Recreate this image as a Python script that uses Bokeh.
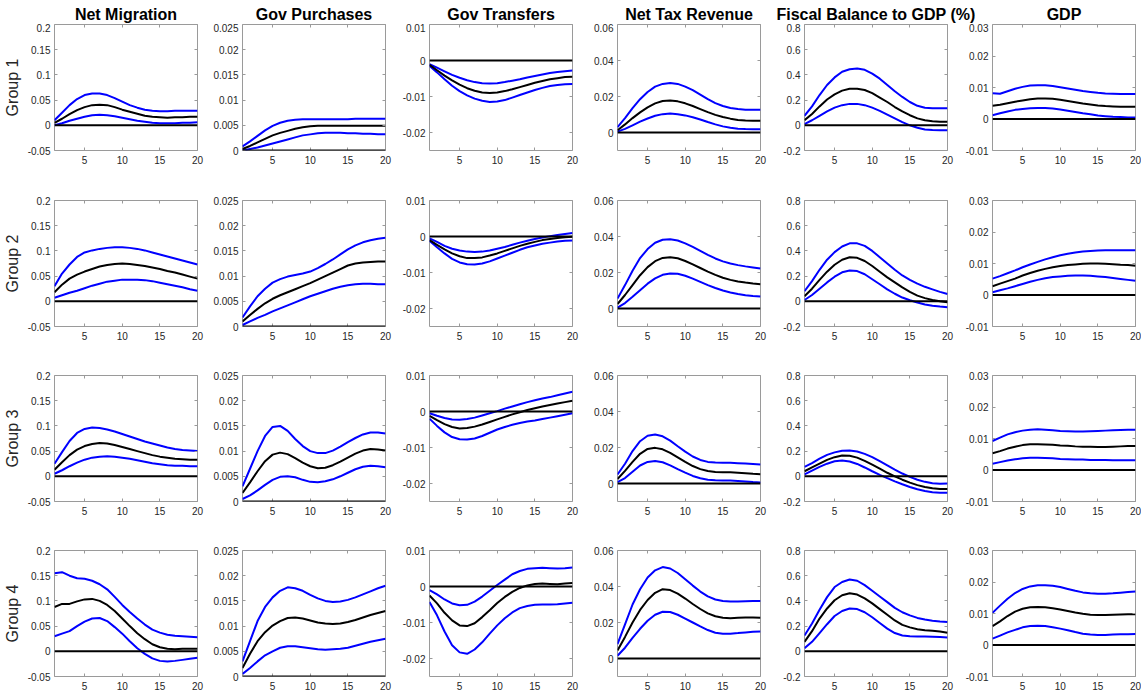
from bokeh.plotting import figure
from bokeh.layouts import gridplot, column
from bokeh.models import Range1d, FixedTicker, LinearAxis, Span, ColumnDataSource
from bokeh.embed import file_html
from bokeh.resources import INLINE
from bokeh.core.properties import value

# ---------------- data ----------------
T = list(range(1, 21))
TITLES = ["Net Migration", "Gov Purchases", "Gov Transfers", "Net Tax Revenue",
          "Fiscal Balance to GDP (%)", "GDP"]
GROUPS = ["Group 1", "Group 2", "Group 3", "Group 4"]
X_TICKS = [5, 10, 15, 20]
Y_LIMITS = [(-0.05, 0.2), (0, 0.025), (-0.025, 0.01), (-0.01, 0.06), (-0.2, 0.8), (-0.01, 0.03)]
Y_TICKS = [[-0.05, 0, 0.05, 0.1, 0.15, 0.2],
           [0, 0.005, 0.01, 0.015, 0.02, 0.025],
           [-0.02, -0.01, 0, 0.01],
           [0, 0.02, 0.04, 0.06],
           [-0.2, 0, 0.2, 0.4, 0.6, 0.8],
           [-0.01, 0, 0.01, 0.02, 0.03]]

# Net Migration
NM_HI = [
    [0.010, 0.025, 0.040, 0.052, 0.060, 0.063, 0.063, 0.060, 0.054, 0.047, 0.040, 0.035, 0.031, 0.029, 0.028, 0.028, 0.029, 0.029, 0.029, 0.029],
    [0.030, 0.055, 0.073, 0.088, 0.097, 0.101, 0.104, 0.106, 0.107, 0.107, 0.106, 0.104, 0.101, 0.097, 0.093, 0.089, 0.085, 0.081, 0.077, 0.073],
    [0.025, 0.048, 0.070, 0.086, 0.094, 0.097, 0.096, 0.093, 0.089, 0.084, 0.079, 0.074, 0.069, 0.065, 0.061, 0.057, 0.054, 0.052, 0.051, 0.050],
    [0.155, 0.157, 0.150, 0.145, 0.144, 0.140, 0.133, 0.123, 0.108, 0.092, 0.078, 0.065, 0.053, 0.043, 0.037, 0.033, 0.031, 0.030, 0.029, 0.028],
]
NM_MED = [
    [0.005, 0.013, 0.022, 0.030, 0.036, 0.040, 0.041, 0.040, 0.036, 0.031, 0.027, 0.023, 0.019, 0.017, 0.016, 0.015, 0.016, 0.016, 0.017, 0.017],
    [0.018, 0.033, 0.045, 0.053, 0.059, 0.064, 0.069, 0.072, 0.074, 0.075, 0.074, 0.072, 0.070, 0.067, 0.064, 0.060, 0.057, 0.053, 0.049, 0.045],
    [0.013, 0.028, 0.042, 0.053, 0.060, 0.064, 0.066, 0.065, 0.062, 0.058, 0.054, 0.050, 0.046, 0.042, 0.039, 0.037, 0.035, 0.034, 0.033, 0.033],
    [0.088, 0.094, 0.094, 0.099, 0.103, 0.104, 0.100, 0.092, 0.080, 0.065, 0.050, 0.036, 0.024, 0.014, 0.008, 0.005, 0.004, 0.005, 0.005, 0.005],
]
NM_LO = [
    [0.000, 0.004, 0.009, 0.013, 0.017, 0.020, 0.021, 0.020, 0.018, 0.015, 0.012, 0.009, 0.007, 0.005, 0.004, 0.004, 0.004, 0.005, 0.005, 0.006],
    [0.007, 0.012, 0.017, 0.021, 0.026, 0.031, 0.035, 0.039, 0.041, 0.043, 0.043, 0.043, 0.042, 0.040, 0.037, 0.034, 0.031, 0.028, 0.024, 0.021],
    [0.005, 0.012, 0.020, 0.027, 0.033, 0.037, 0.039, 0.040, 0.039, 0.037, 0.035, 0.032, 0.029, 0.026, 0.024, 0.022, 0.021, 0.021, 0.020, 0.020],
    [0.030, 0.035, 0.040, 0.050, 0.059, 0.065, 0.066, 0.060, 0.048, 0.035, 0.020, 0.006, -0.005, -0.014, -0.019, -0.020, -0.019, -0.017, -0.015, -0.013],
]

# Gov Purchases
GP_HI = [
    [0.0008, 0.0018, 0.0029, 0.0040, 0.0049, 0.0055, 0.0059, 0.0061, 0.0062, 0.0062, 0.0062, 0.0062, 0.0062, 0.0062, 0.0062, 0.0063, 0.0063, 0.0063, 0.0063, 0.0063],
    [0.0018, 0.0040, 0.0060, 0.0075, 0.0087, 0.0094, 0.0099, 0.0102, 0.0105, 0.0109, 0.0116, 0.0124, 0.0133, 0.0143, 0.0153, 0.0161, 0.0167, 0.0171, 0.0174, 0.0176],
    [0.0030, 0.0065, 0.0100, 0.0130, 0.0148, 0.0150, 0.0140, 0.0124, 0.0110, 0.0100, 0.0096, 0.0096, 0.0101, 0.0109, 0.0118, 0.0126, 0.0133, 0.0137, 0.0137, 0.0135],
    [0.0030, 0.0070, 0.0110, 0.0138, 0.0157, 0.0170, 0.0177, 0.0175, 0.0170, 0.0162, 0.0155, 0.0150, 0.0148, 0.0149, 0.0152, 0.0157, 0.0163, 0.0169, 0.0175, 0.0180],
]
GP_MED = [
    [0.0003, 0.0009, 0.0016, 0.0023, 0.0030, 0.0035, 0.0039, 0.0043, 0.0046, 0.0048, 0.0049, 0.0049, 0.0049, 0.0049, 0.0049, 0.0049, 0.0049, 0.0049, 0.0049, 0.0049],
    [0.0010, 0.0023, 0.0035, 0.0046, 0.0055, 0.0062, 0.0068, 0.0074, 0.0080, 0.0086, 0.0093, 0.0100, 0.0107, 0.0114, 0.0121, 0.0125, 0.0127, 0.0128, 0.0129, 0.0129],
    [0.0017, 0.0038, 0.0060, 0.0080, 0.0093, 0.0097, 0.0094, 0.0086, 0.0077, 0.0070, 0.0066, 0.0067, 0.0072, 0.0079, 0.0087, 0.0095, 0.0101, 0.0104, 0.0103, 0.0101],
    [0.0017, 0.0045, 0.0070, 0.0088, 0.0101, 0.0110, 0.0116, 0.0117, 0.0115, 0.0111, 0.0107, 0.0105, 0.0104, 0.0105, 0.0108, 0.0112, 0.0117, 0.0122, 0.0126, 0.0130],
]
GP_LO = [
    [0.0000, 0.0003, 0.0006, 0.0010, 0.0014, 0.0018, 0.0022, 0.0026, 0.0030, 0.0032, 0.0034, 0.0035, 0.0035, 0.0035, 0.0034, 0.0034, 0.0033, 0.0033, 0.0032, 0.0032],
    [0.0003, 0.0010, 0.0017, 0.0023, 0.0030, 0.0036, 0.0042, 0.0048, 0.0054, 0.0060, 0.0065, 0.0070, 0.0075, 0.0079, 0.0082, 0.0084, 0.0085, 0.0085, 0.0084, 0.0084],
    [0.0005, 0.0012, 0.0022, 0.0033, 0.0043, 0.0049, 0.0050, 0.0048, 0.0043, 0.0039, 0.0038, 0.0040, 0.0044, 0.0050, 0.0057, 0.0064, 0.0069, 0.0071, 0.0070, 0.0068],
    [0.0005, 0.0017, 0.0030, 0.0042, 0.0050, 0.0057, 0.0060, 0.0060, 0.0058, 0.0056, 0.0054, 0.0053, 0.0054, 0.0055, 0.0057, 0.0061, 0.0065, 0.0069, 0.0072, 0.0075],
]

# Gov Transfers
GT_HI = [
    [-0.0010, -0.0020, -0.0030, -0.0040, -0.0048, -0.0055, -0.0060, -0.0063, -0.0064, -0.0063, -0.0060, -0.0056, -0.0052, -0.0047, -0.0043, -0.0039, -0.0035, -0.0032, -0.0030, -0.0028],
    [-0.0005, -0.0015, -0.0026, -0.0034, -0.0039, -0.0042, -0.0043, -0.0042, -0.0039, -0.0034, -0.0029, -0.0023, -0.0017, -0.0012, -0.0007, -0.0003, 0.0001, 0.0004, 0.0007, 0.0010],
    [-0.0005, -0.0012, -0.0018, -0.0022, -0.0023, -0.0021, -0.0017, -0.0011, -0.0005, 0.0001, 0.0008, 0.0014, 0.0020, 0.0026, 0.0031, 0.0036, 0.0040, 0.0045, 0.0050, 0.0055],
    [-0.0010, -0.0022, -0.0036, -0.0047, -0.0052, -0.0051, -0.0042, -0.0028, -0.0012, 0.0004, 0.0019, 0.0034, 0.0043, 0.0049, 0.0051, 0.0052, 0.0051, 0.0050, 0.0051, 0.0053],
]
GT_MED = [
    [-0.0012, -0.0027, -0.0042, -0.0055, -0.0067, -0.0077, -0.0084, -0.0089, -0.0090, -0.0089, -0.0085, -0.0080, -0.0074, -0.0068, -0.0062, -0.0057, -0.0052, -0.0049, -0.0046, -0.0045],
    [-0.0010, -0.0023, -0.0036, -0.0047, -0.0055, -0.0060, -0.0060, -0.0058, -0.0053, -0.0047, -0.0040, -0.0033, -0.0026, -0.0020, -0.0015, -0.0010, -0.0007, -0.0004, -0.0002, -0.0001],
    [-0.0012, -0.0024, -0.0035, -0.0043, -0.0047, -0.0046, -0.0042, -0.0036, -0.0029, -0.0022, -0.0015, -0.0008, -0.0002, 0.0004, 0.0009, 0.0014, 0.0018, 0.0022, 0.0026, 0.0030],
    [-0.0025, -0.0047, -0.0073, -0.0094, -0.0108, -0.0110, -0.0102, -0.0085, -0.0066, -0.0046, -0.0029, -0.0015, -0.0004, 0.0003, 0.0007, 0.0008, 0.0007, 0.0006, 0.0008, 0.0010],
]
GT_LO = [
    [-0.0015, -0.0033, -0.0052, -0.0070, -0.0085, -0.0097, -0.0106, -0.0112, -0.0115, -0.0114, -0.0110, -0.0103, -0.0096, -0.0089, -0.0082, -0.0076, -0.0071, -0.0068, -0.0066, -0.0065],
    [-0.0012, -0.0030, -0.0047, -0.0062, -0.0072, -0.0077, -0.0078, -0.0075, -0.0069, -0.0061, -0.0053, -0.0045, -0.0037, -0.0030, -0.0025, -0.0020, -0.0017, -0.0014, -0.0012, -0.0011],
    [-0.0020, -0.0040, -0.0058, -0.0071, -0.0077, -0.0078, -0.0075, -0.0068, -0.0059, -0.0050, -0.0043, -0.0037, -0.0032, -0.0028, -0.0025, -0.0021, -0.0017, -0.0013, -0.0009, -0.0005],
    [-0.0043, -0.0080, -0.0125, -0.0163, -0.0183, -0.0187, -0.0175, -0.0155, -0.0131, -0.0108, -0.0088, -0.0072, -0.0060, -0.0054, -0.0051, -0.0050, -0.0050, -0.0049, -0.0047, -0.0045],
]

# Net Tax Revenue
NT_HI = [
    [0.0030, 0.0080, 0.0135, 0.0185, 0.0225, 0.0255, 0.0270, 0.0275, 0.0270, 0.0255, 0.0235, 0.0210, 0.0185, 0.0163, 0.0147, 0.0136, 0.0130, 0.0127, 0.0126, 0.0126],
    [0.0055, 0.0130, 0.0210, 0.0280, 0.0330, 0.0365, 0.0382, 0.0385, 0.0378, 0.0362, 0.0342, 0.0320, 0.0298, 0.0278, 0.0262, 0.0250, 0.0241, 0.0234, 0.0228, 0.0222],
    [0.0050, 0.0110, 0.0180, 0.0235, 0.0265, 0.0272, 0.0262, 0.0238, 0.0207, 0.0177, 0.0150, 0.0131, 0.0120, 0.0116, 0.0115, 0.0115, 0.0113, 0.0111, 0.0108, 0.0105],
    [0.0080, 0.0190, 0.0300, 0.0385, 0.0450, 0.0490, 0.0508, 0.0500, 0.0475, 0.0440, 0.0405, 0.0372, 0.0345, 0.0328, 0.0320, 0.0316, 0.0316, 0.0318, 0.0320, 0.0320],
]
NT_MED = [
    [0.0012, 0.0045, 0.0080, 0.0112, 0.0140, 0.0162, 0.0175, 0.0178, 0.0173, 0.0162, 0.0147, 0.0130, 0.0113, 0.0098, 0.0086, 0.0077, 0.0070, 0.0067, 0.0065, 0.0065],
    [0.0025, 0.0075, 0.0130, 0.0185, 0.0230, 0.0263, 0.0281, 0.0285, 0.0279, 0.0264, 0.0245, 0.0225, 0.0205, 0.0187, 0.0171, 0.0159, 0.0150, 0.0144, 0.0139, 0.0135],
    [0.0025, 0.0070, 0.0120, 0.0165, 0.0192, 0.0198, 0.0190, 0.0170, 0.0145, 0.0120, 0.0097, 0.0080, 0.0069, 0.0064, 0.0063, 0.0062, 0.0060, 0.0057, 0.0054, 0.0052],
    [0.0045, 0.0120, 0.0200, 0.0270, 0.0325, 0.0365, 0.0385, 0.0380, 0.0360, 0.0333, 0.0303, 0.0275, 0.0251, 0.0235, 0.0226, 0.0224, 0.0226, 0.0228, 0.0228, 0.0227],
]
NT_LO = [
    [0.0005, 0.0020, 0.0040, 0.0060, 0.0078, 0.0093, 0.0102, 0.0105, 0.0102, 0.0095, 0.0085, 0.0072, 0.0058, 0.0045, 0.0034, 0.0026, 0.0021, 0.0019, 0.0018, 0.0018],
    [0.0005, 0.0030, 0.0065, 0.0102, 0.0138, 0.0167, 0.0187, 0.0195, 0.0193, 0.0182, 0.0166, 0.0148, 0.0130, 0.0114, 0.0100, 0.0089, 0.0080, 0.0073, 0.0069, 0.0066],
    [0.0008, 0.0030, 0.0065, 0.0100, 0.0120, 0.0125, 0.0118, 0.0101, 0.0080, 0.0060, 0.0042, 0.0029, 0.0021, 0.0018, 0.0017, 0.0016, 0.0014, 0.0011, 0.0008, 0.0006],
    [0.0015, 0.0060, 0.0115, 0.0165, 0.0210, 0.0243, 0.0260, 0.0258, 0.0243, 0.0222, 0.0200, 0.0178, 0.0158, 0.0143, 0.0137, 0.0138, 0.0141, 0.0145, 0.0148, 0.0150],
]

# Fiscal Balance to GDP (%)
FB_HI = [
    [0.075, 0.150, 0.240, 0.320, 0.380, 0.425, 0.445, 0.450, 0.440, 0.410, 0.370, 0.320, 0.270, 0.225, 0.185, 0.155, 0.140, 0.135, 0.135, 0.135],
    [0.080, 0.160, 0.250, 0.330, 0.390, 0.435, 0.460, 0.460, 0.440, 0.400, 0.350, 0.300, 0.250, 0.205, 0.170, 0.140, 0.115, 0.095, 0.075, 0.058],
    [0.075, 0.105, 0.140, 0.170, 0.190, 0.203, 0.205, 0.197, 0.178, 0.152, 0.120, 0.087, 0.053, 0.022, -0.005, -0.027, -0.044, -0.055, -0.060, -0.058],
    [0.125, 0.220, 0.330, 0.430, 0.510, 0.550, 0.570, 0.560, 0.525, 0.480, 0.435, 0.390, 0.345, 0.310, 0.285, 0.265, 0.252, 0.243, 0.237, 0.232],
]
FB_MED = [
    [0.040, 0.090, 0.150, 0.205, 0.245, 0.275, 0.290, 0.290, 0.280, 0.255, 0.220, 0.185, 0.145, 0.110, 0.080, 0.055, 0.040, 0.032, 0.028, 0.028],
    [0.040, 0.100, 0.170, 0.235, 0.290, 0.330, 0.350, 0.345, 0.320, 0.280, 0.235, 0.190, 0.150, 0.110, 0.075, 0.045, 0.025, 0.010, 0.000, -0.008],
    [0.040, 0.070, 0.100, 0.130, 0.152, 0.165, 0.163, 0.148, 0.122, 0.092, 0.060, 0.028, 0.000, -0.027, -0.050, -0.070, -0.085, -0.095, -0.100, -0.100],
    [0.075, 0.160, 0.260, 0.340, 0.405, 0.445, 0.460, 0.450, 0.420, 0.380, 0.335, 0.290, 0.245, 0.210, 0.190, 0.175, 0.168, 0.163, 0.157, 0.148],
]
FB_LO = [
    [0.010, 0.040, 0.075, 0.110, 0.140, 0.160, 0.170, 0.170, 0.160, 0.140, 0.115, 0.085, 0.055, 0.025, 0.000, -0.020, -0.033, -0.038, -0.040, -0.040],
    [0.010, 0.050, 0.100, 0.150, 0.195, 0.230, 0.245, 0.240, 0.215, 0.175, 0.135, 0.095, 0.060, 0.030, 0.008, -0.010, -0.025, -0.035, -0.042, -0.048],
    [0.015, 0.045, 0.075, 0.100, 0.120, 0.126, 0.118, 0.098, 0.070, 0.040, 0.012, -0.015, -0.040, -0.063, -0.085, -0.103, -0.117, -0.126, -0.130, -0.130],
    [0.025, 0.075, 0.145, 0.215, 0.280, 0.320, 0.340, 0.335, 0.310, 0.270, 0.225, 0.180, 0.145, 0.125, 0.120, 0.118, 0.117, 0.115, 0.113, 0.110],
]

# GDP
GD_HI = [
    [0.0082, 0.0080, 0.0088, 0.0096, 0.0102, 0.0106, 0.0107, 0.0107, 0.0105, 0.0101, 0.0097, 0.0093, 0.0089, 0.0086, 0.0083, 0.0081, 0.0080, 0.0079, 0.0079, 0.0079],
    [0.0052, 0.0060, 0.0069, 0.0078, 0.0088, 0.0097, 0.0105, 0.0113, 0.0120, 0.0126, 0.0131, 0.0135, 0.0138, 0.0140, 0.0141, 0.0142, 0.0142, 0.0142, 0.0142, 0.0142],
    [0.0092, 0.0103, 0.0113, 0.0120, 0.0125, 0.0128, 0.0129, 0.0128, 0.0126, 0.0124, 0.0123, 0.0122, 0.0122, 0.0123, 0.0124, 0.0125, 0.0126, 0.0127, 0.0128, 0.0128],
    [0.0102, 0.0125, 0.0147, 0.0165, 0.0178, 0.0186, 0.0190, 0.0190, 0.0188, 0.0184, 0.0178, 0.0172, 0.0167, 0.0164, 0.0163, 0.0163, 0.0164, 0.0166, 0.0168, 0.0170],
]
GD_MED = [
    [0.0042, 0.0045, 0.0050, 0.0055, 0.0059, 0.0063, 0.0065, 0.0065, 0.0064, 0.0061, 0.0057, 0.0053, 0.0049, 0.0046, 0.0043, 0.0041, 0.0040, 0.0039, 0.0039, 0.0039],
    [0.0028, 0.0036, 0.0044, 0.0052, 0.0062, 0.0070, 0.0077, 0.0083, 0.0088, 0.0092, 0.0095, 0.0097, 0.0099, 0.0100, 0.0100, 0.0099, 0.0098, 0.0096, 0.0095, 0.0093],
    [0.0053, 0.0060, 0.0068, 0.0074, 0.0079, 0.0082, 0.0082, 0.0081, 0.0080, 0.0078, 0.0077, 0.0075, 0.0074, 0.0074, 0.0073, 0.0073, 0.0074, 0.0075, 0.0076, 0.0076],
    [0.0060, 0.0075, 0.0092, 0.0106, 0.0115, 0.0120, 0.0121, 0.0120, 0.0117, 0.0113, 0.0108, 0.0103, 0.0099, 0.0096, 0.0095, 0.0095, 0.0096, 0.0097, 0.0098, 0.0098],
]
GD_LO = [
    [0.0012, 0.0018, 0.0024, 0.0029, 0.0032, 0.0034, 0.0035, 0.0035, 0.0033, 0.0030, 0.0026, 0.0022, 0.0018, 0.0015, 0.0011, 0.0009, 0.0007, 0.0006, 0.0005, 0.0005],
    [0.0009, 0.0015, 0.0021, 0.0028, 0.0035, 0.0042, 0.0048, 0.0053, 0.0057, 0.0059, 0.0061, 0.0062, 0.0062, 0.0061, 0.0059, 0.0057, 0.0054, 0.0051, 0.0048, 0.0045],
    [0.0020, 0.0025, 0.0030, 0.0034, 0.0037, 0.0039, 0.0039, 0.0038, 0.0037, 0.0035, 0.0034, 0.0033, 0.0033, 0.0032, 0.0032, 0.0032, 0.0031, 0.0031, 0.0031, 0.0031],
    [0.0020, 0.0030, 0.0040, 0.0048, 0.0056, 0.0060, 0.0061, 0.0060, 0.0056, 0.0052, 0.0047, 0.0041, 0.0036, 0.0033, 0.0032, 0.0032, 0.0033, 0.0034, 0.0034, 0.0035],
]

SERIES = [(NM_LO, NM_MED, NM_HI), (GP_LO, GP_MED, GP_HI), (GT_LO, GT_MED, GT_HI),
          (NT_LO, NT_MED, NT_HI), (FB_LO, FB_MED, FB_HI), (GD_LO, GD_MED, GD_HI)]

# ---------------- layout / style ----------------
FONT = "Liberation Sans"
FW, FH = 143, 126
LEFT = [54, 38, 37, 38, 37, 38]
RIGHT = [7, 7, 7, 7, 7, 6]
TOP = [1, 25, 25, 25]
BOTTOM = [25, 24, 24, 16]
HEADER_H = 23
BOX = "#9a9a9a"
LABEL = "#262626"
BLUE = "#0000ff"

frame_left = []
acc = 0
for i in range(6):
    frame_left.append(acc + LEFT[i])
    acc += LEFT[i] + FW + RIGHT[i]
TOTAL_W = acc


def style_axis(ax, ticker, labels=True):
    ax.ticker = ticker
    ax.axis_line_color = None
    ax.major_tick_in = 3
    ax.major_tick_out = 0
    ax.major_tick_line_color = BOX
    ax.minor_tick_line_color = None
    if labels:
        ax.major_label_text_font = FONT
        ax.major_label_text_font_size = "10px"
        ax.major_label_text_color = LABEL
    else:
        ax.major_label_text_color = None
        ax.major_label_standoff = 0


rows = []
for g in range(4):
    row = []
    for v in range(6):
        lo_s, med_s, hi_s = SERIES[v]
        ymin, ymax = Y_LIMITS[v]
        src = ColumnDataSource(dict(t=T, lo=lo_s[g], med=med_s[g], hi=hi_s[g]))
        p = figure(frame_width=FW, frame_height=FH,
                   x_range=Range1d(1, 20), y_range=Range1d(ymin, ymax),
                   output_backend="svg", toolbar_location=None,
                   min_border_left=LEFT[v], min_border_right=RIGHT[v],
                   min_border_top=TOP[g], min_border_bottom=BOTTOM[g],
                   background_fill_color="white", border_fill_color="white",
                   outline_line_color=BOX, outline_line_width=1)
        p.grid.visible = False
        style_axis(p.xaxis[0], FixedTicker(ticks=X_TICKS))
        style_axis(p.yaxis[0], FixedTicker(ticks=Y_TICKS[v]))
        p.xaxis[0].major_label_standoff = 5
        p.yaxis[0].major_label_standoff = 4
        p.yaxis[0].major_label_overrides = {t: f"{t:g}" for t in Y_TICKS[v]}
        top_ax = LinearAxis()
        style_axis(top_ax, FixedTicker(ticks=X_TICKS), labels=False)
        p.add_layout(top_ax, "above")
        right_ax = LinearAxis()
        style_axis(right_ax, FixedTicker(ticks=Y_TICKS[v]), labels=False)
        p.add_layout(right_ax, "right")
        if v == 0:
            p.yaxis[0].axis_label = GROUPS[g]
            p.yaxis[0].axis_label_text_font = FONT
            p.yaxis[0].axis_label_text_font_size = "16px"
            p.yaxis[0].axis_label_text_font_style = "normal"
            p.yaxis[0].axis_label_text_color = LABEL
            p.yaxis[0].axis_label_standoff = 4
        p.line("t", "hi", source=src, line_color=BLUE, line_width=2)
        p.line("t", "lo", source=src, line_color=BLUE, line_width=2)
        p.line("t", "med", source=src, line_color="black", line_width=2)
        p.add_layout(Span(location=0, dimension="width", line_color="black", line_width=2))
        row.append(p)
    rows.append(row)

grid = gridplot(rows, toolbar_location=None)

hdr = figure(width=TOTAL_W, height=HEADER_H,
             x_range=Range1d(0, TOTAL_W), y_range=Range1d(0, HEADER_H),
             x_axis_type=None, y_axis_type=None, output_backend="svg",
             toolbar_location=None, min_border=0, outline_line_color=None,
             background_fill_color="white", border_fill_color="white")
hdr.grid.visible = False
hsrc = ColumnDataSource(dict(x=[fl + FW / 2 for fl in frame_left],
                             y=[HEADER_H - 14] * len(TITLES), text=TITLES))
hdr.text(x="x", y="y", text="text", source=hsrc, text_font=value(FONT),
         text_font_style="bold", text_font_size="16px", text_align="center",
         text_baseline="middle", text_color="black")

layout = column(hdr, grid)
open("out.html", "w").write(file_html(layout, INLINE))
